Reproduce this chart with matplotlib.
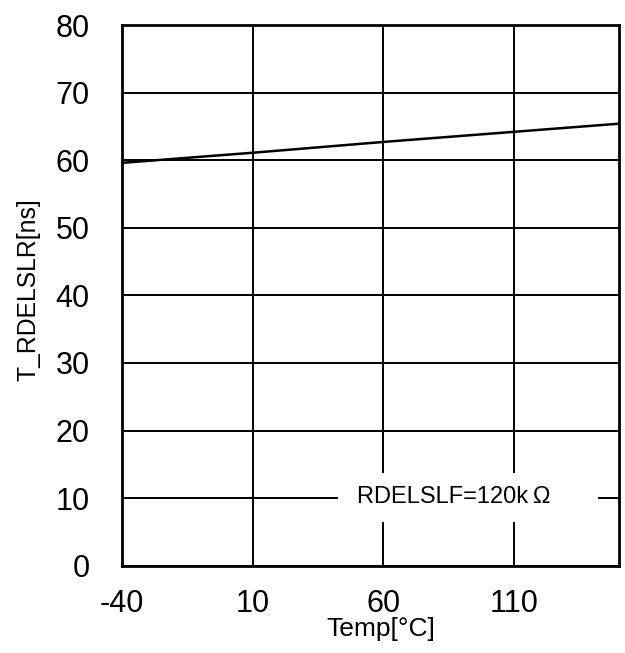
import matplotlib.pyplot as plt
from matplotlib.patches import Rectangle

plt.rcParams["font.family"] = ["Liberation Sans", "DejaVu Sans"]
plt.rcParams["axes.unicode_minus"] = False

# data
temp = [-40, 10, 60, 110, 150]
t_rdelslr = [59.6, 61.1, 62.7, 64.2, 65.4]
x_ticks = [-40, 10, 60, 110]
y_ticks = [0, 10, 20, 30, 40, 50, 60, 70, 80]
note = "RDELSLF=120k\u2009\u03a9"

fig = plt.figure(figsize=(6.25, 6.53), dpi=100)
ax = fig.add_axes([0.1947, 0.1337, 0.7957, 0.828])

ax.plot(temp, t_rdelslr, color="black", linewidth=1.8, zorder=4)

ax.set_xlim(-40, 150)
ax.set_ylim(0, 80)
ax.set_xticks(x_ticks)
ax.set_yticks(y_ticks)
ax.grid(True, color="black", linewidth=1.4, zorder=1)
ax.set_axisbelow(True)
ax.tick_params(length=0, labelsize=22)
ax.tick_params(axis="y", pad=23)
ax.tick_params(axis="x", pad=17)
for sp in ax.spines.values():
    sp.set_linewidth(2)
    sp.set_zorder(5)

ax.set_xlabel("Temp[°C]", fontsize=19)
ax.xaxis.set_label_coords(0.521, -0.095, transform=ax.transAxes)
ax.set_ylabel("T_RDELSLR[ns]", fontsize=17.8)
ax.yaxis.set_label_coords(-0.163, 0.51, transform=ax.transAxes)

# white box behind the annotation hides the gridlines
ax.add_patch(Rectangle((42.6, 6.5), 99.2, 7.2, facecolor="white",
                       edgecolor="none", zorder=2))
ax.text(87, 10.1, note, ha="center", va="center", fontsize=17, zorder=3)

fig.savefig("out.png", dpi=100)
